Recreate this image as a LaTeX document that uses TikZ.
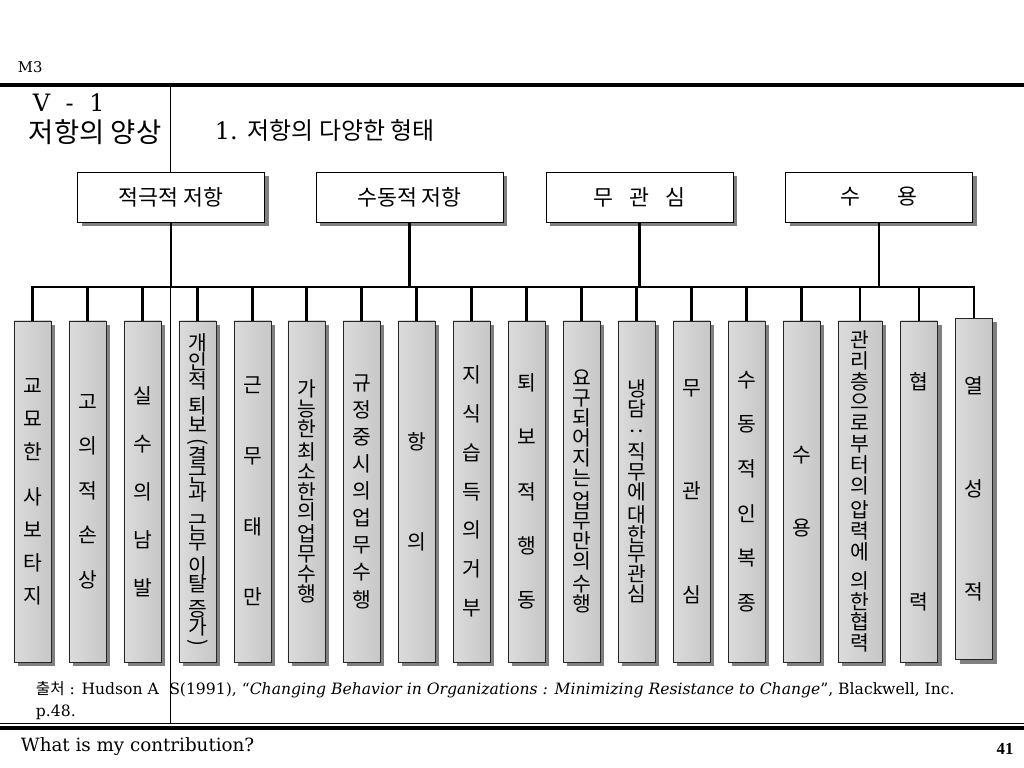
\documentclass[tikz,border=0pt]{standalone}
\usepackage{fontspec}
\setmainfont{DejaVu Serif}
\newfontfamily\kr{Noto Sans CJK KR}
\newfontfamily\narrowserif{Liberation Serif}
\usetikzlibrary{shadows}
\newcommand{\leaffont}[1]{\kr\fontsize{14.5}{#1}\selectfont\lineskiplimit=-20pt\relax}
\newcommand{\turnparen}[1]{\rotatebox[origin=c]{-90}{#1}}
\tikzset{
  conn/.style={line width=2.1pt},
  boxshadow/.style={drop shadow={shadow xshift=0.11cm, shadow yshift=-0.1cm, fill=black!50, opacity=1}},
  topbox/.style={draw, fill=white, line width=0.6pt, minimum width=4.675cm, minimum height=1.25cm,
    boxshadow, font=\kr\fontsize{15.4}{17}\selectfont},
  leafbox/.style={draw=black!85, line width=0.6pt, left color=black!14, middle color=white,
    right color=black!22, minimum width=0.925cm, minimum height=8.525cm, inner sep=0pt,
    align=center, boxshadow},
}

\begin{document}
\begin{tikzpicture}[x=0.025cm, y=-0.025cm]
\useasboundingbox (0,0) rectangle (1024,768);

% header
\node[anchor=west, font=\fontsize{10.5}{12}\selectfont] (deck) at (13,67) {M3};
\draw[line width=2.9pt] (0,85) -- (1024,85);
\draw[line width=0.75pt] (170.5,86) -- (170.5,723);
\node[anchor=west, font=\fontsize{17}{20}\selectfont] (secno) at (28,103) {V\hspace{0.65em}-\hspace{0.65em}1};
\node[anchor=west, font=\kr\fontsize{19.5}{22}\selectfont] (sectitle) at (24,132) {저항의 양상};
\node[anchor=west, font=\fontsize{17}{20}\selectfont] (heading) at (210,130) {1. {\kr 저항의 다양한 형태}};

% four kinds
\node[topbox] (active) at (171,197) {적극적 저항};
\node[topbox] (passive) at (409.5,197) {수동적 저항};
\node[topbox] (indiff) at (639.5,197) {무\hspace{0.75em}관\hspace{0.75em}심};
\node[topbox] (accept) at (879,197) {수\hspace{1.7em}용};

\coordinate (bus) at (0,287);

% the eighteen behaviours
\node[leafbox, font=\leaffont{23.5}] (lf1) at (32.5,491.5) {교\\묘\\한\\[8.5pt]사\\보\\타\\지};
\node[leafbox, font=\leaffont{31.7}] (lf2) at (87.5,491.5) {고\\의\\적\\손\\상};
\node[leafbox, font=\leaffont{34.1}] (lf3) at (142.5,491.5) {실\\수\\의\\남\\발};
\node[leafbox, font=\leaffont{13.2}] (lf4) at (197.5,491.5) {개\\인\\적\\[5pt]퇴\\보\\[-2pt]\turnparen{(}\\[-2pt]결\\근\\과\\[8pt]근\\무\\[4pt]이\\탈\\[4pt]증\\가\\[-3pt]\turnparen{)}};
\node[leafbox, font=\leaffont{50.3}] (lf5) at (252.5,491.5) {근\\무\\태\\만};
\node[leafbox, font=\leaffont{14.2}] (lf6) at (306.5,491.5) {가\\능\\한\\[2pt]최\\소\\한\\의\\[2pt]업\\무\\수\\행};
\node[leafbox, font=\leaffont{19.3}] (lf7) at (361.5,491.5) {규\\정\\중\\시\\의\\업\\무\\수\\행};
\node[leafbox, font=\leaffont{71.1}] (lf8) at (416.5,491.5) {항\\의};
\node[leafbox, font=\leaffont{27.6}] (lf9) at (471.5,491.5) {지\\식\\습\\득\\의\\거\\부};
\node[leafbox, font=\leaffont{38.6}] (lf10) at (526.5,491.5) {퇴\\보\\적\\행\\동};
\node[leafbox, font=\leaffont{14.2}] (lf11) at (581.5,491.5) {요\\구\\되\\어\\지\\는\\[2pt]업\\무\\만\\의\\[2pt]수\\행};
\node[leafbox, font=\leaffont{14.2}] (lf12) at (636.5,491.5) {냉\\담\\\turnparen{:}\\[2pt]직\\무\\에\\[2pt]대\\한\\무\\관\\심};
\node[leafbox, font=\leaffont{73.6}] (lf13) at (691.5,491.5) {무\\관\\심};
\node[leafbox, font=\leaffont{31.7}] (lf14) at (746.5,491.5) {수\\동\\적\\인\\복\\종};
\node[leafbox, font=\leaffont{51.9}] (lf15) at (801.5,491.5) {수\\용};
\node[leafbox, minimum width=1.1cm, font=\leaffont{14.8}] (lf16) at (860,491.5) {관\\리\\층\\으\\로\\부\\터\\의\\[2.5pt]압\\력\\에\\[6pt]의\\한\\협\\력};
\node[leafbox, font=\leaffont{156.5}] (lf17) at (919,491.5) {협\\력};
\node[leafbox, font=\leaffont{73.3}] (lf18) at (974,489) {열\\성\\적};

% tree lines
\foreach \t in {active,passive,indiff,accept}
  \draw[conn] (\t.south) -- (\t.south |- bus);
\draw[conn] (lf1.north) -- (lf1.north |- bus) -- (lf18.north |- bus) -- (lf18.north);
\foreach \i in {2,...,17}
  \draw[conn] (lf\i.north |- bus) -- (lf\i.north);

% footer
\node[anchor=west, font=\fontsize{11.1}{13}\selectfont] (source) at (31,690) {{\kr 출처} : Hudson A\hspace{0.35em} S(1991), “\textit{Changing Behavior in Organizations : Minimizing Resistance to Change}”, Blackwell, Inc.};
\node[anchor=west, font=\fontsize{11.1}{13}\selectfont] (page) at (31,712) {p.48.};
\draw[line width=1.1pt] (0,723.5) -- (1024,723.5);
\draw[line width=2.4pt] (0,728) -- (1024,728);
\node[anchor=west, font=\fontsize{13}{15}\selectfont] (motto) at (16,747) {What is my contribution?};
\node[font=\narrowserif\bfseries\fontsize{12}{14}\selectfont] (pageno) at (1005,749) {41};
\end{tikzpicture}
\end{document}
